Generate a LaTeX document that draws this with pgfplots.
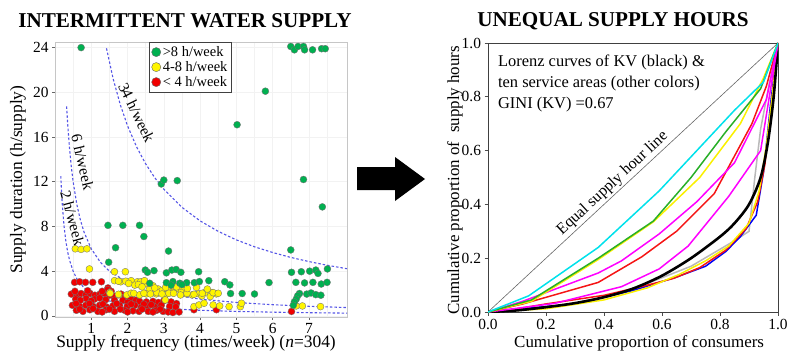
\documentclass[border=0pt]{standalone}
\usepackage{fontspec}
\setmainfont{Liberation Serif}
\usepackage{pgfplots}
\pgfplotsset{compat=1.18}
\definecolor{sgreen}{RGB}{0,176,80}
\definecolor{syellow}{RGB}{255,245,0}
\definecolor{sred}{RGB}{240,0,0}
\definecolor{dashblue}{RGB}{85,85,230}
\definecolor{lcyan}{RGB}{0,225,235}
\definecolor{lgreen}{RGB}{40,175,40}
\definecolor{lyellow}{RGB}{250,240,0}
\definecolor{lmag}{RGB}{255,0,255}
\definecolor{lred}{RGB}{245,20,20}
\definecolor{lblue}{RGB}{0,0,245}
\definecolor{lgray}{RGB}{185,185,185}
\begin{document}
\begin{tikzpicture}[x=1bp,y=1bp]
\useasboundingbox (0,0) rectangle (788,355);
% ---------------- LEFT ----------------
\begin{axis}[at={(55bp,38bp)}, anchor=south west, scale only axis,
  width=292bp, height=275bp,
  xmin=0, xmax=8.05, ymin=-0.1, ymax=24.5,
  xtick={1,2,3,4,5,6,7}, ytick={0,4,8,12,16,20,24},
  minor xtick={0.5,1.5,2.5,3.5,4.5,5.5,6.5,7.5},
  xmajorgrids, ymajorgrids, xminorgrids,
  major grid style={gray!10, line width=0.5bp},
  minor grid style={gray!10, line width=0.5bp},
  minor tick length=0pt, major tick length=3bp,
  tick align=outside, tick pos=left,
  tick style={black!60, line width=0.6bp},
  axis line style={gray!45, line width=0.8bp},
  /pgf/number format/assume math mode=true,
  tick label style={font=\fontsize{15.5}{15.5}\selectfont},
  xlabel={Supply frequency (times/week) (\textit{n}=304)},
  ylabel={Supply duration (h/supply)},
  label style={font=\fontsize{17.5}{17.5}\selectfont},
  xlabel style={at={(axis description cs:0.483,-0.095)}, anchor=center},
  ylabel style={at={(axis description cs:-0.127,0.5)}, anchor=center},
  legend style={at={(axis cs:2.6,24.5)}, anchor=north west, draw=black!75,
    line width=0.7bp, font=\fontsize{14.5}{14.5}\selectfont, row sep=-0.5bp,
    inner sep=2bp, legend cell align=left},
]
\addlegendimage{only marks, mark=*, mark size=4.6, mark options={fill=sgreen, draw=black!60, line width=0.4bp}}
\addlegendentry{>8 h/week}
\addlegendimage{only marks, mark=*, mark size=4.6, mark options={fill=syellow, draw=black!60, line width=0.4bp}}
\addlegendentry{4-8 h/week}
\addlegendimage{only marks, mark=*, mark size=4.6, mark options={fill=sred, draw=black!60, line width=0.4bp}}
\addlegendentry{< 4 h/week}
% reference curves (supply hours per week = H)
\addplot[dashblue, line width=1.1bp, dash pattern=on 2.5bp off 2bp, forget plot] coordinates {
(1.42,23.94) (1.6,21.25) (1.8,18.89) (2,17) (2.25,15.11) (2.5,13.6) (2.75,12.36) (3,11.33)
(3.5,9.71) (4,8.5) (4.5,7.56) (5,6.8) (5.5,6.18) (6,5.67) (6.5,5.23) (7,4.86) (7.5,4.53) (8.05,4.22)};
\addplot[dashblue, line width=1.1bp, dash pattern=on 2.5bp off 2bp, forget plot] coordinates {
(0.32,18.75) (0.35,17.14) (0.4,15) (0.45,13.33) (0.5,12) (0.6,10) (0.7,8.57) (0.8,7.5) (1,6)
(1.25,4.8) (1.5,4) (2,3) (2.5,2.4) (3,2) (4,1.5) (5,1.2) (6,1) (7,0.857) (8.05,0.745)};
\addplot[dashblue, line width=1.1bp, dash pattern=on 2.5bp off 2bp, forget plot] coordinates {
(0.16,12.5) (0.18,11.11) (0.2,10) (0.25,8) (0.3,6.67) (0.35,5.71) (0.4,5) (0.5,4) (0.6,3.33)
(0.8,2.5) (1,2) (1.25,1.6) (1.5,1.33) (2,1) (3,0.667) (4,0.5) (5,0.4) (6,0.333) (7,0.286) (8.05,0.248)};
% red < 4 h/week
\addplot[only marks, mark=*, mark size=3.5, mark options={fill=sred, draw=black!55, line width=0.35bp}, forget plot] table {
x y
0.54 3.0
0.68 3.05
0.84 3.0
1.04 3.0
1.28 3.05
1.46 2.5
0.45 1.95
0.6 1.85
0.72 2.0
0.85 1.9
0.97 2.0
1.1 1.85
1.24 1.95
1.37 2.0
1.5 1.85
1.63 1.75
1.82 1.95
1.97 1.8
2.1 1.7
1.45 2.35
1.55 2.2
0.55 2.2
0.9 2.25
1.3 2.2
0.57 1.5
0.86 1.55
1.09 1.5
1.23 1.6
1.64 1.4
1.87 1.4
2.1 1.55
2.23 1.4
2.33 1.3
2.52 1.25
0.7 1.4
1.0 1.35
1.4 1.45
2.0 1.2
2.7 1.3
2.85 1.2
3.0 1.35
3.2 1.25
3.35 1.1
0.48 0.95
0.68 0.85
0.85 0.95
1.05 0.85
1.23 0.95
1.42 0.8
1.6 0.9
1.78 0.95
1.99 0.85
2.2 0.95
2.38 0.8
2.56 0.85
2.75 0.8
2.93 0.95
3.16 0.85
3.33 0.8
0.58 1.1
0.95 1.1
1.32 1.05
1.7 1.1
2.1 1.05
2.45 1.05
2.65 1.0
0.59 0.5
0.77 0.4
0.96 0.55
1.18 0.4
1.41 0.55
1.64 0.4
1.92 0.5
2.15 0.45
2.32 0.4
2.57 0.4
2.8 0.5
2.98 0.4
3.12 0.35
3.25 0.3
3.42 0.35
3.83 0.55
4.45 0.55
6.52 0.4
0.68 0.6
1.05 0.65
1.5 0.6
1.8 0.6
2.4 0.6
2.9 0.6
1.3 0.35
2.0 0.35
2.7 0.35
};
% yellow 4-8 h/week
\addplot[only marks, mark=*, mark size=3.5, mark options={fill=syellow, draw=black!55, line width=0.35bp}, forget plot] table {
x y
0.56 6.0
0.72 5.95
0.88 6.0
0.95 4.2
1.64 3.95
1.94 3.95
1.64 3.15
1.81 3.05
1.95 3.1
2.1 3.15
2.27 3.05
2.45 3.1
2.52 2.9
2.2 2.75
2.36 3.05
2.47 3.15
1.75 3.1
2.03 2.9
2.7 2.7
2.3 2.8
2.6 2.35
2.85 2.4
3.1 2.3
3.4 2.45
2.95 2.25
3.25 2.2
3.55 2.3
1.51 2.09
1.76 1.88
1.98 1.88
2.1 2.03
2.33 1.88
2.52 1.97
2.79 1.97
3.04 1.88
3.25 2.09
3.48 2.09
3.62 1.97
3.78 1.88
3.97 1.97
4.13 2.09
4.33 2.09
4.45 1.97
4.28 1.73
4.05 1.79
1.52 2.02
1.75 1.93
2.17 2.02
2.45 2.02
2.63 1.96
2.81 2.08
2.95 1.96
3.14 2.02
3.27 2.02
3.46 1.87
3.64 2.02
3.83 1.93
4.06 2.02
2.4 2.6
2.75 2.5
3.05 2.55
3.35 2.6
3.65 2.45
3.9 2.55
4.2 2.4
4.36 2.08
4.5 2.02
3.04 1.43
3.83 0.83
3.97 0.98
4.11 1.13
4.36 0.98
4.54 0.89
4.8 0.83
5.11 0.83
5.14 1.13
6.65 0.89
6.82 0.89
7.32 0.83
};
% green > 8 h/week
\addplot[only marks, mark=*, mark size=3.5, mark options={fill=sgreen, draw=black!55, line width=0.35bp}, forget plot] table {
x y
0.72 24.0
6.5 24.1
6.6 23.8
6.7 24.1
6.85 24.1
6.88 23.8
7.1 23.8
7.35 23.9
7.45 23.9
5.8 20.1
5.02 17.1
2.93 11.8
3.0 12.15
3.37 12.1
6.85 12.2
7.37 9.75
1.46 8.1
1.87 8.1
2.33 8.1
2.45 7.1
1.67 6.1
3.13 5.8
6.5 5.9
1.48 4.8
2.49 4.1
2.73 4.05
2.55 3.9
3.07 3.85
3.22 4.1
3.34 4.15
3.47 3.9
3.96 3.95
6.52 3.9
6.79 3.95
7.02 4.0
7.19 4.1
7.25 3.8
7.51 4.2
4.24 3.15
4.68 3.06
4.82 2.77
4.84 2.0
5.16 2.0
5.5 1.96
5.9 2.98
6.64 3.0
6.88 2.95
7.11 3.0
7.34 2.85
7.5 3.0
6.74 2.0
6.94 1.95
7.06 2.05
7.19 1.9
7.33 1.85
6.69 1.8
6.65 1.5
6.6 1.25
6.57 0.95
2.61 2.92
3.07 2.97
3.25 3.07
3.44 2.92
3.63 2.97
3.84 2.97
3.98 3.07
3.2 2.75
3.5 2.8
};
\node[font=\fontsize{15.5}{15.5}\selectfont, rotate=-64] at (axis cs:2.25,18.2) {34 h/week};
\node[font=\fontsize{15.5}{15.5}\selectfont, rotate=-77] at (axis cs:0.76,13.75) {6 h/week};
\node[font=\fontsize{15.5}{15.5}\selectfont, rotate=-75] at (axis cs:0.48,8.75) {2 h/week};
\end{axis}
% ---------------- RIGHT ----------------
\begin{axis}[at={(488bp,43bp)}, anchor=south west, scale only axis,
  width=290bp, height=269bp,
  xmin=0, xmax=1, ymin=0, ymax=1,
  xtick={0,0.2,...,1.0}, ytick={0,0.2,...,1.0},
  xticklabels={0.0,0.2,0.4,0.6,0.8,1.0},
  yticklabels={0.0,0.2,0.4,0.6,0.8,1.0},
  tick align=outside, tick pos=left, major tick length=3.5bp,
  tick style={black!70, line width=0.6bp},
  axis line style={black!75, line width=0.8bp},
  tick label style={font=\fontsize{15.5}{15.5}\selectfont},
  xlabel={Cumulative proportion of consumers},
  ylabel={Cumulative proportion of\ \ supply hours},
  label style={font=\fontsize{17}{17}\selectfont},
  xlabel style={at={(axis description cs:0.521,-0.115)}, anchor=center},
  ylabel style={at={(axis description cs:-0.114,0.49)}, anchor=center},
]
\addplot[gray!80!black, line width=0.6bp] coordinates {(0,0) (1,1)};
\addplot[lgray, line width=1.5bp] coordinates {(0,0) (0.3,0.03) (0.5,0.085) (0.7,0.17) (0.85,0.265) (0.9,0.30) (0.92,0.50) (0.94,0.68) (0.97,0.85) (1,1)};
\addplot[lblue, line width=1.5bp] coordinates {(0,0) (0.3,0.03) (0.5,0.08) (0.65,0.13) (0.75,0.17) (0.82,0.225) (0.87,0.28) (0.925,0.36) (0.95,0.52) (0.975,0.78) (1,1)};
\addplot[lred, line width=1.5bp] coordinates {(0,0) (0.1,0.012) (0.2,0.03) (0.4,0.062) (0.55,0.1) (0.64,0.125) (0.73,0.165) (0.82,0.23) (0.89,0.31) (0.93,0.41) (0.955,0.55) (0.975,0.75) (1,1)};
\addplot[lyellow, line width=1.5bp] coordinates {(0,0) (0.2,0.012) (0.4,0.045) (0.55,0.09) (0.66,0.14) (0.75,0.19) (0.83,0.245) (0.90,0.33) (0.935,0.45) (0.96,0.62) (0.98,0.8) (1,1)};
\addplot[black, line width=2.6bp, smooth] coordinates {(0,0) (0.1,0.006) (0.2,0.018) (0.3,0.033) (0.4,0.055) (0.5,0.087) (0.6,0.135) (0.7,0.2) (0.8,0.28) (0.85,0.33) (0.9,0.40) (0.94,0.50) (0.965,0.63) (0.985,0.8) (1,1)};
\addplot[lmag, line width=1.5bp] coordinates {(0,0) (0.23,0.032) (0.46,0.094) (0.59,0.16) (0.69,0.245) (0.83,0.43) (0.94,0.60) (1,1)};
\addplot[lred, line width=1.5bp] coordinates {(0,0) (0.12,0.03) (0.38,0.11) (0.53,0.205) (0.65,0.30) (0.78,0.44) (0.91,0.70) (0.96,0.84) (1,1)};
\addplot[lmag, line width=1.5bp] coordinates {(0,0) (0.12,0.04) (0.38,0.145) (0.46,0.19) (0.59,0.29) (0.72,0.41) (0.85,0.555) (0.96,0.79) (1,1)};
\addplot[lyellow, line width=1.5bp] coordinates {(0,0) (0.15,0.04) (0.38,0.195) (0.57,0.335) (0.73,0.50) (0.87,0.70) (0.95,0.87) (1,1)};
\addplot[lgreen, line width=1.5bp] coordinates {(0,0) (0.15,0.045) (0.38,0.2) (0.57,0.338) (0.70,0.50) (0.82,0.67) (0.94,0.83) (1,1)};
\addplot[lcyan, line width=1.5bp] coordinates {(0,0) (0.14,0.06) (0.38,0.24) (0.59,0.45) (0.85,0.75) (0.95,0.855) (1,1)};
\node[font=\fontsize{16}{16}\selectfont, rotate=42.85, anchor=south, inner sep=2bp] at (axis cs:0.452,0.452) {Equal supply hour line};
\node[font=\fontsize{16.5}{21}\selectfont, align=left, anchor=north west, inner sep=0pt] at (axis cs:0.034,0.955) {Lorenz curves of KV (black) \&\\ten service areas (other colors)\\GINI (KV) =0.67};
\end{axis}
% titles
\node[font=\bfseries\fontsize{21.2}{21.2}\selectfont] at (185,334) {INTERMITTENT WATER SUPPLY};
\node[font=\bfseries\fontsize{21.2}{21.2}\selectfont] at (613,334) {UNEQUAL SUPPLY HOURS};
% arrow
\fill[black] (357,188) -- (395,188) -- (395,198) -- (425,176) -- (395,154) -- (395,165) -- (357,165) -- cycle;
\end{tikzpicture}
\end{document}
